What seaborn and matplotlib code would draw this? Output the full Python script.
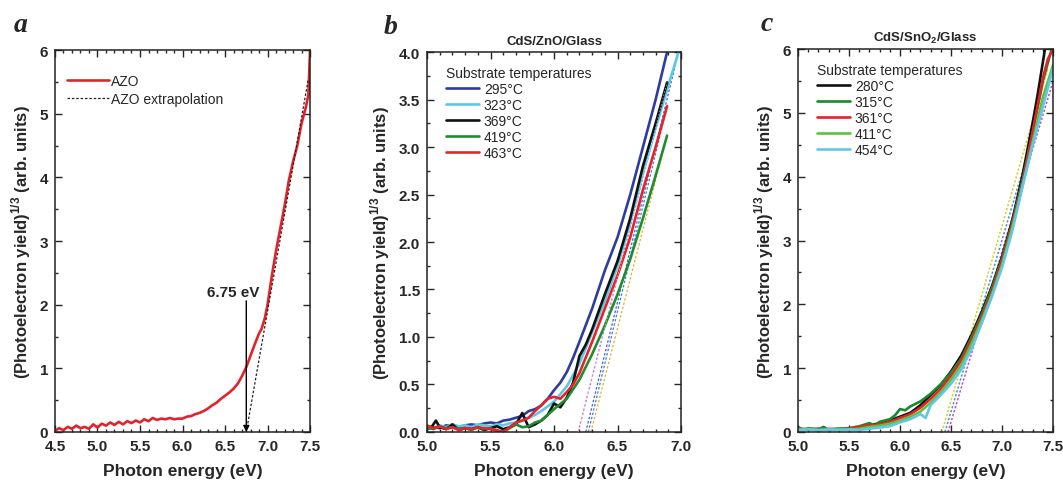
import pandas as pd
import matplotlib
matplotlib.use('Agg')
import matplotlib.pyplot as plt
import seaborn as sns
from matplotlib.ticker import MultipleLocator

sns.set_style('ticks')
plt.rcParams['font.family'] = ['Liberation Sans', 'DejaVu Sans']
plt.rcParams['mathtext.fontset'] = 'custom'
plt.rcParams['mathtext.rm'] = 'Liberation Sans'
plt.rcParams['mathtext.bf'] = 'Liberation Sans:bold'

# ---------------- 数据：a 面板 AZO ----------------
azo_x = [4.50, 4.55, 4.60, 4.65, 4.70, 4.75, 4.80, 4.85, 4.90, 4.95, 5.00, 5.05, 5.10, 5.15,
         5.20, 5.25, 5.30, 5.35, 5.40, 5.45, 5.50, 5.55, 5.60, 5.65, 5.70, 5.75, 5.80, 5.85,
         5.90, 5.95, 6.00, 6.05, 6.10, 6.15, 6.20, 6.25, 6.30, 6.35, 6.40, 6.45, 6.50, 6.55,
         6.60, 6.65, 6.70, 6.75, 6.80, 6.85, 6.90, 6.93, 6.97, 7.00, 7.05, 7.10, 7.15, 7.20,
         7.25, 7.30, 7.35, 7.40, 7.45, 7.48, 7.50]
azo_y = [0.02, 0.06, 0.03, 0.08, 0.05, 0.10, 0.06, 0.08, 0.05, 0.12, 0.07, 0.13, 0.10, 0.15,
         0.11, 0.16, 0.12, 0.17, 0.14, 0.18, 0.15, 0.20, 0.17, 0.22, 0.19, 0.21, 0.20, 0.22,
         0.20, 0.21, 0.21, 0.24, 0.25, 0.28, 0.30, 0.33, 0.37, 0.42, 0.46, 0.52, 0.57, 0.62,
         0.68, 0.76, 0.88, 1.02, 1.20, 1.38, 1.55, 1.62, 1.80, 2.00, 2.45, 2.85, 3.20, 3.55,
         3.95, 4.25, 4.50, 4.85, 5.10, 5.30, 6.00]
azo_ext_x = [6.75, 7.48]
azo_ext_y = [0.0, 5.55]
azo_gap = 6.75

# ---------------- 数据：b 面板 CdS/ZnO/Glass ----------------
b_labels = ['295°C', '323°C', '369°C', '419°C', '463°C']
b_colors = ['#2e3c9e', '#5cc9e2', '#111111', '#1f8c30', '#e8222b']
b_x = {
    '295°C': [5.0, 5.05, 5.1, 5.15, 5.2, 5.25, 5.3, 5.35, 5.4, 5.45, 5.5, 5.55, 5.6, 5.65, 5.7,
              5.75, 5.8, 5.85, 5.9, 5.95, 6.0, 6.05, 6.1, 6.15, 6.2, 6.3, 6.4, 6.5, 6.6, 6.7, 6.8, 6.89],
    '323°C': [5.0, 5.05, 5.1, 5.15, 5.2, 5.25, 5.3, 5.35, 5.4, 5.45, 5.5, 5.55, 5.6, 5.65, 5.7,
              5.75, 5.8, 5.85, 5.9, 5.95, 6.0, 6.1, 6.2, 6.3, 6.4, 6.5, 6.6, 6.7, 6.8, 6.9, 6.98],
    '369°C': [5.0, 5.04, 5.07, 5.1, 5.15, 5.2, 5.25, 5.3, 5.35, 5.4, 5.45, 5.5, 5.55, 5.6, 5.65,
              5.7, 5.75, 5.8, 5.85, 5.9, 5.95, 6.0, 6.05, 6.1, 6.15, 6.2, 6.25, 6.3, 6.4, 6.5,
              6.6, 6.7, 6.8, 6.89],
    '419°C': [5.0, 5.05, 5.1, 5.15, 5.2, 5.25, 5.3, 5.35, 5.4, 5.45, 5.5, 5.55, 5.6, 5.65, 5.7,
              5.75, 5.8, 5.85, 5.9, 5.95, 6.0, 6.1, 6.2, 6.3, 6.4, 6.5, 6.6, 6.7, 6.8, 6.89],
    '463°C': [5.0, 5.05, 5.1, 5.15, 5.2, 5.25, 5.3, 5.35, 5.4, 5.45, 5.5, 5.55, 5.6, 5.65, 5.7,
              5.75, 5.8, 5.85, 5.9, 5.95, 6.0, 6.05, 6.1, 6.15, 6.2, 6.3, 6.4, 6.5, 6.6, 6.7, 6.8, 6.89],
}
b_y = {
    '295°C': [0.03, 0.05, 0.04, 0.07, 0.06, 0.05, 0.07, 0.08, 0.07, 0.09, 0.10, 0.09, 0.12, 0.13, 0.15,
              0.17, 0.22, 0.24, 0.28, 0.35, 0.44, 0.52, 0.63, 0.78, 0.95, 1.30, 1.70, 2.05, 2.50, 3.00, 3.50, 4.00],
    '323°C': [0.06, 0.04, 0.07, 0.05, 0.08, 0.06, 0.07, 0.05, 0.08, 0.07, 0.06, 0.08, 0.07, 0.09, 0.10,
              0.12, 0.15, 0.18, 0.22, 0.27, 0.32, 0.48, 0.72, 1.05, 1.38, 1.75, 2.20, 2.72, 3.20, 3.65, 4.00],
    '369°C': [0.04, 0.06, 0.12, 0.05, 0.03, 0.08, 0.02, 0.04, 0.03, 0.05, 0.02, 0.04, 0.06, 0.03, 0.05,
              0.08, 0.20, 0.05, 0.08, 0.12, 0.18, 0.30, 0.26, 0.36, 0.52, 0.80, 0.92, 1.08, 1.45, 1.80,
              2.25, 2.80, 3.25, 3.68],
    '419°C': [0.05, 0.03, 0.06, 0.04, 0.05, 0.03, 0.04, 0.02, 0.05, 0.03, 0.04, 0.01, 0.00, 0.04, 0.08,
              0.05, 0.06, 0.10, 0.12, 0.18, 0.24, 0.35, 0.55, 0.82, 1.12, 1.45, 1.82, 2.25, 2.70, 3.12],
    '463°C': [0.07, 0.04, 0.06, 0.03, 0.05, 0.02, 0.04, 0.03, 0.05, 0.04, 0.03, 0.02, 0.00, 0.05, 0.10,
              0.12, 0.15, 0.22, 0.28, 0.35, 0.37, 0.35, 0.42, 0.50, 0.62, 0.95, 1.30, 1.65, 2.05, 2.55,
              3.00, 3.43],
}
# 外推虚线 (起点, 终点)
b_ext_x = [[6.19, 6.89], [6.25, 6.98], [6.27, 6.89], [6.29, 6.89]]
b_ext_y = [[0.0, 3.68], [0.0, 4.00], [0.0, 3.43], [0.0, 3.12]]
b_ext_colors = ['#c05ad0', '#4a5fd0', '#3f7fd8', '#e0b030']

# ---------------- 数据：c 面板 CdS/SnO2/Glass ----------------
c_labels = ['280°C', '315°C', '361°C', '411°C', '454°C']
c_colors = ['#111111', '#178a2c', '#e3232b', '#5fc23c', '#62c7e6']
c_x = {
    '280°C': [5.0, 5.1, 5.2, 5.3, 5.4, 5.5, 5.6, 5.7, 5.8, 5.9, 6.0, 6.1, 6.2, 6.3, 6.4, 6.5,
              6.6, 6.7, 6.8, 6.9, 7.0, 7.1, 7.2, 7.3, 7.35, 7.42],
    '315°C': [5.0, 5.05, 5.1, 5.2, 5.25, 5.3, 5.4, 5.5, 5.6, 5.7, 5.75, 5.8, 5.9, 5.95, 6.0, 6.05,
              6.1, 6.2, 6.3, 6.4, 6.5, 6.6, 6.7, 6.8, 6.9, 7.0, 7.1, 7.2, 7.3, 7.4, 7.48],
    '361°C': [5.0, 5.1, 5.2, 5.3, 5.4, 5.5, 5.6, 5.7, 5.8, 5.9, 6.0, 6.1, 6.2, 6.3, 6.4, 6.5,
              6.6, 6.7, 6.8, 6.9, 7.0, 7.1, 7.2, 7.3, 7.4, 7.45, 7.5],
    '411°C': [5.0, 5.1, 5.2, 5.3, 5.4, 5.5, 5.6, 5.7, 5.8, 5.9, 6.0, 6.1, 6.2, 6.3, 6.4, 6.5,
              6.6, 6.7, 6.8, 6.9, 7.0, 7.1, 7.2, 7.3, 7.4, 7.45, 7.5],
    '454°C': [5.0, 5.1, 5.2, 5.3, 5.4, 5.5, 5.6, 5.7, 5.8, 5.9, 6.0, 6.1, 6.2, 6.25, 6.3, 6.4, 6.5,
              6.6, 6.7, 6.8, 6.9, 7.0, 7.1, 7.2, 7.3, 7.4, 7.5],
}
c_y = {
    '280°C': [0.05, 0.04, 0.05, 0.04, 0.05, 0.05, 0.07, 0.10, 0.14, 0.18, 0.24, 0.30, 0.42, 0.58,
              0.74, 0.95, 1.20, 1.52, 1.88, 2.28, 2.75, 3.32, 4.02, 4.85, 5.30, 6.00],
    '315°C': [0.08, 0.03, 0.06, 0.04, 0.08, 0.03, 0.05, 0.06, 0.09, 0.14, 0.10, 0.16, 0.20, 0.26,
              0.36, 0.34, 0.40, 0.48, 0.60, 0.75, 0.93, 1.15, 1.48, 1.84, 2.25, 2.72, 3.28, 3.95,
              4.70, 5.50, 5.97],
    '361°C': [0.05, 0.04, 0.03, 0.05, 0.04, 0.05, 0.08, 0.10, 0.12, 0.16, 0.22, 0.28, 0.38, 0.52,
              0.68, 0.88, 1.12, 1.44, 1.80, 2.20, 2.68, 3.25, 3.90, 4.70, 5.55, 5.85, 6.00],
    '411°C': [0.04, 0.05, 0.03, 0.04, 0.05, 0.04, 0.05, 0.08, 0.10, 0.13, 0.18, 0.24, 0.32, 0.46,
              0.62, 0.82, 1.05, 1.38, 1.75, 2.15, 2.62, 3.20, 3.85, 4.55, 5.25, 5.50, 5.75],
    '454°C': [0.03, 0.04, 0.03, 0.04, 0.03, 0.04, 0.03, 0.05, 0.07, 0.09, 0.15, 0.20, 0.28, 0.22,
              0.42, 0.58, 0.76, 0.98, 1.30, 1.70, 2.12, 2.58, 3.15, 3.85, 4.50, 5.10, 5.70],
}
c_ext_x = [[6.41, 7.45], [6.44, 7.50], [6.47, 7.50]]
c_ext_y = [[0.0, 5.70], [0.0, 5.70], [0.0, 5.50]]
c_ext_colors = ['#d8d030', '#4a90d8', '#c050c0']


def long_table(labels, xs, ys):
    rows = []
    for lab in labels:
        for e, v in zip(xs[lab], ys[lab]):
            rows.append({'energy': e, 'yield': v, 'temp': lab})
    return pd.DataFrame(rows)


def style_axis(ax, xlim, ylim, xmaj, xmin, ymaj, ymin, yfmt):
    ax.set_xlim(*xlim)
    ax.set_ylim(*ylim)
    ax.xaxis.set_major_locator(MultipleLocator(xmaj))
    ax.xaxis.set_minor_locator(MultipleLocator(xmin))
    ax.yaxis.set_major_locator(MultipleLocator(ymaj))
    ax.yaxis.set_minor_locator(MultipleLocator(ymin))
    ax.xaxis.set_major_formatter(plt.FormatStrFormatter('%.1f'))
    ax.yaxis.set_major_formatter(plt.FormatStrFormatter(yfmt))
    ax.tick_params(which='both', direction='in', top=True, right=True, width=1.0)
    ax.tick_params(which='major', length=5, labelsize=11)
    ax.tick_params(axis='x', which='major', pad=5)
    ax.tick_params(axis='y', which='major', pad=5)
    ax.tick_params(which='minor', length=2.5)
    for t in ax.get_xticklabels() + ax.get_yticklabels():
        t.set_fontweight('bold')
    for s in ax.spines.values():
        s.set_linewidth(1.1)
        s.set_color('#222222')
    ax.set_xlabel('Photon energy (eV)', fontsize=12.5, fontweight='bold', labelpad=7)
    ax.set_ylabel(r'(Photoelectron yield)$^{\mathregular{1/3}}$ (arb. units)',
                  fontsize=12, fontweight='bold', labelpad=5)


fig = plt.figure(figsize=(10.63, 4.81), dpi=100)
ax_a = fig.add_axes([0.0517, 0.0998, 0.240, 0.794])
ax_b = fig.add_axes([0.4017, 0.0998, 0.239, 0.790])
ax_c = fig.add_axes([0.7507, 0.0998, 0.240, 0.796])

# ------------------------- a -------------------------
df_a = pd.DataFrame({'energy': azo_x, 'yield': azo_y})
sns.lineplot(data=df_a, x='energy', y='yield', color='#e3232b', lw=1.9,
             sort=False, estimator=None, ax=ax_a, label='AZO')
df_ext = pd.DataFrame({'energy': azo_ext_x, 'yield': azo_ext_y})
sns.lineplot(data=df_ext, x='energy', y='yield', color='#222222', lw=0.9,
             linestyle=(0, (2, 1.5)), sort=False, estimator=None, ax=ax_a,
             label='AZO extrapolation')
ax_a.annotate('', xy=(azo_gap, 0.0), xytext=(azo_gap, 2.06),
              arrowprops=dict(arrowstyle='-|>', color='black', lw=1.0,
                              mutation_scale=9, shrinkA=0, shrinkB=0))
ax_a.text(6.6, 2.2, f'{azo_gap:.2f} eV', ha='center', va='center',
          fontsize=11, fontweight='bold')
style_axis(ax_a, (4.5, 7.5), (0, 6), 0.5, 0.1, 1, 0.5, '%d')
ax_a.legend(loc='upper left', frameon=False, fontsize=10, handlelength=3.0,
            handletextpad=0.1, borderaxespad=0.5, labelspacing=0.25,
            bbox_to_anchor=(0.0, 0.97))

# ------------------------- b -------------------------
for xs, ys, col in zip(b_ext_x, b_ext_y, b_ext_colors):
    ax_b.plot(xs, ys, color=col, lw=0.9, linestyle=(0, (2, 1.5)), zorder=1)
df_b = long_table(b_labels, b_x, b_y)
sns.lineplot(data=df_b, x='energy', y='yield', hue='temp', hue_order=b_labels,
             palette=dict(zip(b_labels, b_colors)), lw=1.9, sort=False,
             estimator=None, ax=ax_b)
for xs, ys, col in zip(b_ext_x[:1], b_ext_y[:1], ['white']):
    ax_b.plot(xs, ys, color=col, lw=0.6, linestyle=(0, (2, 2)), zorder=3, alpha=0.6)
style_axis(ax_b, (5.0, 7.0), (0, 4.0), 0.5, 0.1, 0.5, 0.25, '%.1f')
ax_b.set_title('CdS/ZnO/Glass', fontsize=9.5, fontweight='bold', pad=6)
leg = ax_b.legend(loc='upper left', frameon=False, fontsize=10, title='Substrate temperatures',
                  title_fontsize=10, handlelength=2.4, handletextpad=0.35,
                  labelspacing=0.15, borderaxespad=0.3, bbox_to_anchor=(0.035, 0.99))
leg._legend_box.align = 'left'

# ------------------------- c -------------------------
for xs, ys, col in zip(c_ext_x, c_ext_y, c_ext_colors):
    ax_c.plot(xs, ys, color=col, lw=1.1, linestyle=(0, (1.5, 1.2)), zorder=1)
df_c = long_table(c_labels, c_x, c_y)
sns.lineplot(data=df_c, x='energy', y='yield', hue='temp', hue_order=c_labels,
             palette=dict(zip(c_labels, c_colors)), lw=1.9, sort=False,
             estimator=None, ax=ax_c)
style_axis(ax_c, (5.0, 7.5), (0, 6), 0.5, 0.1, 1, 0.5, '%d')
ax_c.set_title(r'CdS/SnO$_\mathregular{2}$/Glass', fontsize=9.5, fontweight='bold', pad=6)
leg = ax_c.legend(loc='upper left', frameon=False, fontsize=10, title='Substrate temperatures',
                  title_fontsize=10, handlelength=2.4, handletextpad=0.35,
                  labelspacing=0.15, borderaxespad=0.3, bbox_to_anchor=(0.035, 0.99))
leg._legend_box.align = 'left'

# 面板字母
for ax, letter, dx in [(ax_a, 'a', -0.16), (ax_b, 'b', -0.17), (ax_c, 'c', -0.145)]:
    ax.text(dx, 1.035, letter, transform=ax.transAxes, fontsize=20, fontweight='bold',
            fontstyle='italic', family='Liberation Serif', va='bottom', ha='left')

fig.savefig('out.png', dpi=100)
